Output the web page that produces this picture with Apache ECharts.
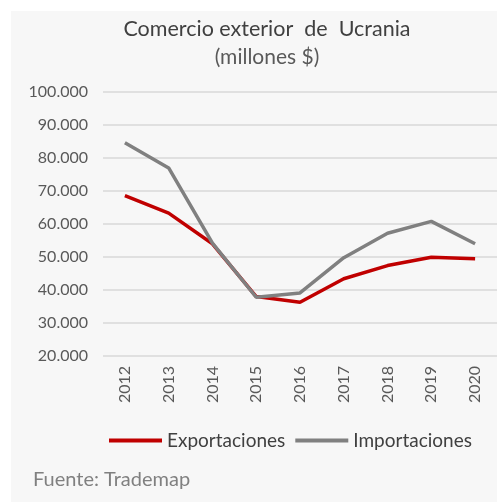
<!DOCTYPE html>
<html>
<head>
<meta charset="utf-8">
<script src="https://cdn.jsdelivr.net/npm/echarts@6/dist/echarts.min.js"></script>
<style>
  html, body { margin: 0; padding: 0; background: #fff; }
  #chart { width: 497px; height: 502px; }
</style>
</head>
<body>
<div id="chart"></div>
<script>
const years = ['2012', '2013', '2014', '2015', '2016', '2017', '2018', '2019', '2020']
const exportaciones = [68600, 63300, 54000, 38000, 36300, 43400, 47400, 49900, 49500]
const importaciones = [84600, 77000, 54200, 37800, 39100, 49800, 57200, 60800, 54000]

const chart = echarts.init(document.getElementById('chart'))
const font = 'Lato, "Open Sans", sans-serif'

const option = {
  animation: false,
  textStyle: { fontFamily: font },
  graphic: [
    {
      type: 'rect',
      z: -10,
      shape: { x: 11, y: 11, width: 486, height: 491 },
      style: { fill: '#f7f7f7' }
    },
    {
      type: 'text',
      left: 33,
      top: 470,
      style: { text: 'Fuente: Trademap', fill: '#808080', font: '20px ' + font }
    }
  ],
  title: {
    text: 'Comercio exterior  de  Ucrania',
    subtext: '(millones $)',
    left: 262,
    textAlign: 'center',
    top: 13,
    itemGap: 7,
    textStyle: { color: '#404040', fontSize: 21.5, fontWeight: 'normal', fontFamily: font },
    subtextStyle: { color: '#595959', fontSize: 21, fontFamily: font }
  },
  legend: {
    top: 426,
    left: 104,
    itemWidth: 53,
    itemHeight: 4,
    itemGap: 10,
    icon: 'rect',
    textStyle: { color: '#404040', fontSize: 19, fontFamily: font, padding: [0, 0, 0, 0] },
    data: ['Exportaciones', 'Importaciones']
  },
  grid: {
    left: 103,
    right: 0,
    top: 92,
    bottom: 146,
    containLabel: false
  },
  xAxis: {
    type: 'category',
    data: years,
    boundaryGap: true,
    axisLine: { show: false },
    axisTick: { show: false },
    axisLabel: {
      rotate: 90,
      color: '#595959',
      fontSize: 16,
      margin: 10,
      fontFamily: font
    }
  },
  yAxis: {
    type: 'value',
    min: 20000,
    max: 100000,
    interval: 10000,
    axisLine: { show: false },
    axisTick: { show: false },
    splitLine: { lineStyle: { color: '#d9d9d9', width: 1.5 } },
    axisLabel: {
      color: '#595959',
      fontSize: 16,
      margin: 15,
      fontFamily: font,
      formatter: (v) => v.toString().replace(/\B(?=(\d{3})+(?!\d))/g, '.')
    }
  },
  series: [
    {
      name: 'Exportaciones',
      type: 'line',
      data: exportaciones,
      symbol: 'none',
      lineStyle: { color: '#c00000', width: 3.5 },
      itemStyle: { color: '#c00000' }
    },
    {
      name: 'Importaciones',
      type: 'line',
      data: importaciones,
      symbol: 'none',
      lineStyle: { color: '#808080', width: 3.5 },
      itemStyle: { color: '#808080' }
    }
  ]
}

chart.setOption(option)
</script>
</body>
</html>
